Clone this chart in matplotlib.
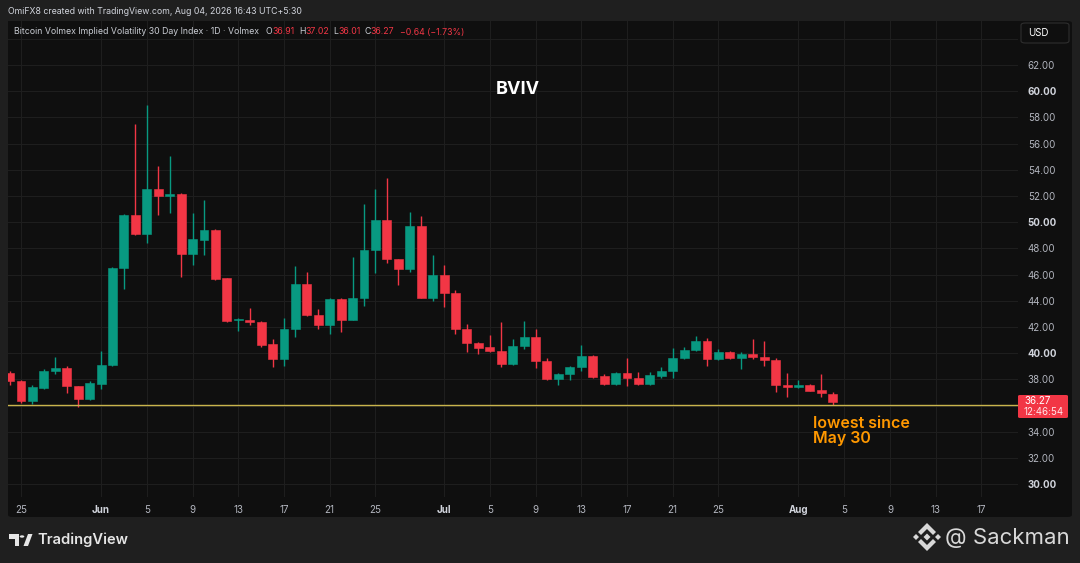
import matplotlib
matplotlib.use("Agg")
import matplotlib.pyplot as plt
import matplotlib.dates as mdates
from matplotlib.patches import FancyBboxPatch, Polygon, Circle
import numpy as np
import pandas as pd

plt.rcParams['font.family'] = ['Inter', 'DejaVu Sans']

# daily BVIV candles, May 24 - Aug 4 2026
dates = pd.date_range('2026-05-24', '2026-08-04', freq='D')
opens = [38.51, 37.90, 36.37, 37.37, 38.64, 38.89, 37.49, 36.48, 37.65, 39.07,
         46.48, 50.55, 49.10, 52.51, 52.00, 52.15, 47.55, 48.66, 49.40, 45.71,
         42.52, 42.56, 42.41, 40.68, 39.53, 41.85, 45.26, 42.89, 42.18, 44.14,
         42.56, 44.24, 47.88, 50.17, 47.17, 46.40, 49.74, 44.24, 45.95, 44.62,
         41.85, 40.76, 40.45, 40.20, 39.15, 40.58, 41.21, 39.41, 38.01, 38.41,
         38.97, 39.79, 38.29, 37.63, 38.52, 38.11, 37.65, 38.29, 38.62, 39.61,
         40.25, 40.93, 39.53, 40.11, 39.60, 39.96, 39.70, 39.45, 37.54, 37.44,
         37.54, 37.16, 36.91]
highs = [38.64, 37.95, 37.60, 38.77, 39.73, 39.02, 37.52, 37.88, 40.17, 46.55,
         50.60, 57.49, 58.94, 54.29, 55.08, 52.20, 50.73, 51.69, 49.45, 45.75,
         42.66, 43.43, 42.45, 41.06, 42.66, 46.66, 46.17, 43.38, 44.20, 44.20,
         47.32, 51.39, 52.54, 53.40, 47.20, 50.81, 50.48, 47.50, 46.71, 44.83,
         42.25, 40.83, 41.39, 42.36, 41.06, 42.46, 41.87, 39.60, 38.45, 39.00,
         40.63, 39.85, 38.41, 38.55, 39.66, 38.59, 38.54, 38.97, 40.37, 40.50,
         41.32, 41.18, 40.29, 40.15, 40.09, 41.08, 40.95, 39.60, 38.46, 37.95,
         37.62, 38.38, 37.02]
lows = [37.60, 36.17, 36.12, 37.24, 38.41, 36.93, 35.92, 36.42, 37.24, 39.00,
        44.90, 49.00, 48.39, 50.55, 50.73, 45.84, 46.73, 47.50, 45.60, 42.35,
        41.72, 42.15, 40.45, 38.97, 39.05, 41.26, 42.85, 41.85, 41.44, 41.59,
        42.50, 43.60, 46.10, 46.86, 45.21, 46.20, 44.20, 44.01, 43.55, 41.44,
        40.10, 39.92, 40.07, 38.92, 39.10, 40.32, 38.85, 37.95, 37.57, 37.96,
        38.67, 38.13, 37.60, 37.55, 37.52, 37.60, 37.60, 38.13, 38.13, 39.55,
        40.20, 39.04, 39.50, 39.55, 38.79, 39.53, 39.04, 37.06, 36.68, 37.31,
        37.08, 36.63, 36.01]
closes = [37.90, 36.37, 37.39, 38.64, 38.89, 37.49, 36.48, 37.70, 39.10, 46.48,
          50.55, 49.07, 52.51, 52.00, 52.10, 47.55, 48.69, 49.40, 45.69, 42.46,
          42.60, 42.38, 40.63, 39.53, 41.85, 45.28, 42.89, 42.18, 44.14, 42.56,
          44.24, 47.88, 50.17, 47.17, 46.40, 49.74, 44.24, 45.95, 44.62, 41.85,
          40.76, 40.42, 40.20, 39.15, 40.58, 41.21, 39.41, 38.01, 38.41, 38.97,
          39.79, 38.21, 37.63, 38.52, 38.08, 37.65, 38.31, 38.62, 39.61, 40.25,
          40.96, 39.53, 40.11, 39.60, 39.96, 39.68, 39.45, 37.54, 37.39, 37.54,
          37.14, 36.93, 36.27]
low_line = 36.05

price_ticks = [30, 32, 34, 36, 38, 40, 42, 44, 46, 48, 50, 52, 54, 56, 58, 60, 62, 64]
date_ticks = ['2026-05-25', '2026-06-01', '2026-06-05', '2026-06-09', '2026-06-13',
              '2026-06-17', '2026-06-21', '2026-06-25', '2026-07-01', '2026-07-05',
              '2026-07-09', '2026-07-13', '2026-07-17', '2026-07-21', '2026-07-25',
              '2026-08-01', '2026-08-05', '2026-08-09', '2026-08-13', '2026-08-17']
date_labels = ['25', 'Jun', '5', '9', '13', '17', '21', '25', 'Jul', '5',
               '9', '13', '17', '21', '25', 'Aug', '5', '9', '13', '17']

UP = '#089981'
DOWN = '#f23645'
W, H = 1080, 563


def fx(x):
    return x / W


def fy(y):
    return 1 - y / H


fig = plt.figure(figsize=(10.8, 5.63), dpi=100, facecolor='#1f1f1f')

# chart panel (behind the axes)
fig.patches.append(FancyBboxPatch((fx(8), fy(517)), fx(1072) - fx(8), fy(21) - fy(517),
                                  boxstyle='round,pad=0,rounding_size=0.004',
                                  transform=fig.transFigure, fc='#0f0f0f', ec='none', zorder=-5))

ax = fig.add_axes([fx(8), fy(497), fx(1018) - fx(8), fy(21) - fy(497)])
ax.set_zorder(0)
ax.set_facecolor('#0f0f0f')
for s in ax.spines.values():
    s.set_visible(False)

x = mdates.date2num(dates)
o = np.array(opens)
c = np.array(closes)
up = c >= o
cols = np.where(up, UP, DOWN)
bottoms = np.minimum(o, c)
heights = np.maximum(np.abs(c - o), 0.12)

ax.vlines(x, lows, highs, colors=cols, linewidth=1, zorder=3)
ax.bar(x, heights, bottom=bottoms, width=0.78, color=cols, edgecolor=cols, linewidth=0.4, zorder=4)

ax.axhline(low_line, color='#c9b44c', linewidth=1, zorder=5)

ax.set_ylim(29.02, 65.36)
ax.set_xlim(mdates.date2num(pd.Timestamp('2026-05-25')) - 1.14,
            mdates.date2num(pd.Timestamp('2026-05-25')) + 87.2)

ax.yaxis.tick_right()
ax.set_yticks(price_ticks)
ylabels = []
for v in price_ticks:
    ylabels.append('' if v in (36, 64) else f'{v:.2f}')
ax.set_yticklabels(ylabels)
ax.tick_params(axis='y', length=0, pad=7, labelsize=7, labelcolor='#b2b5be')
for t, v in zip(ax.get_yticklabels(), price_ticks):
    if v % 10 == 0:
        t.set_fontweight('bold')
        t.set_color('#d1d4dc')

ax.set_xticks(mdates.date2num(pd.to_datetime(date_ticks)))
ax.set_xticklabels(date_labels)
ax.tick_params(axis='x', length=0, pad=6, labelsize=7, labelcolor='#b2b5be')
for t, lab in zip(ax.get_xticklabels(), date_labels):
    if not lab.isdigit():
        t.set_fontweight('bold')
        t.set_color('#d1d4dc')

ax.grid(True, color='#1e1e1e', linewidth=0.8, zorder=0)
ax.set_axisbelow(True)

# header line with OHLC values
gray = '#c8cbd2'
pieces = [('Bitcoin Volmex Implied Volatility 30 Day Index · 1D · Volmex', gray, 0),
          ('O', gray, 5), ('36.91', DOWN, 0), ('H', gray, 3), ('37.02', DOWN, 0),
          ('L', gray, 3), ('36.01', DOWN, 0), ('C', gray, 3), ('36.27', DOWN, 0),
          ('−0.64 (−1.73%)', DOWN, 4)]
prev = ax.text((14 - 8) / 1010, (497 - 32) / 476, pieces[0][0], color=pieces[0][1],
               fontsize=6.3, transform=ax.transAxes, va='center', ha='left')
for s, col, gap in pieces[1:]:
    prev = ax.annotate(s, xy=(1, 0), xycoords=prev, xytext=(gap, 0), textcoords='offset points',
                       color=col, fontsize=6.3, va='bottom', ha='left')

ax.text((518 - 8) / 1010, (497 - 90) / 476, 'BVIV', color='white', fontsize=13,
        fontweight='bold', transform=ax.transAxes, ha='center', va='center')
ax.text((813 - 8) / 1010, (497 - 431) / 476, 'lowest since\nMay 30', color='#ff9800',
        fontsize=11.5, fontweight='semibold', transform=ax.transAxes, ha='left', va='center',
        linespacing=1.0)

# top bar text
fig.text(fx(8), fy(12), 'OmiFX8 created with TradingView.com, Aug 04, 2026 16:43 UTC+5:30',
         color='#d1d4dc', fontsize=6.3, ha='left', va='center')

# USD button
fig.patches.append(FancyBboxPatch((fx(1021), fy(43)), fx(1069) - fx(1021), fy(23) - fy(43),
                                  boxstyle='round,pad=0,rounding_size=0.004',
                                  transform=fig.transFigure, fc='#0f0f0f', ec='#2e2e2e', lw=0.8))
fig.text(fx(1028), fy(33), 'USD', color='white', fontsize=7, ha='left', va='center')

# last price label
fig.patches.append(FancyBboxPatch((fx(1018), fy(418)), fx(1068) - fx(1018), fy(395) - fy(418),
                                  boxstyle='round,pad=0,rounding_size=0.002',
                                  transform=fig.transFigure, fc=DOWN, ec='none'))
fig.text(fx(1024), fy(401.5), '36.27', color='white', fontsize=7, ha='left', va='center')
fig.text(fx(1024), fy(412), '12:46:54', color='#ffe5e8', fontsize=7, ha='left', va='center')

# TradingView logo
tv = '#e6e6e6'
fig.patches.append(Polygon([(fx(9), fy(534)), (fx(19), fy(534)), (fx(19), fy(546)), (fx(14.5), fy(546)),
                            (fx(14.5), fy(538.5)), (fx(9), fy(538.5))], closed=True,
                           transform=fig.transFigure, fc=tv, ec='none'))
fig.patches.append(Circle((fx(22), fy(536.5)), 2.3 / W, transform=fig.transFigure, fc=tv, ec='none'))
fig.patches.append(Polygon([(fx(23.5), fy(546)), (fx(28), fy(534)), (fx(32.5), fy(534)), (fx(28), fy(546))],
                           closed=True, transform=fig.transFigure, fc=tv, ec='none'))
fig.text(fx(37), fy(540), 'TradingView', color=tv, fontsize=10.6, fontweight='semibold',
         ha='left', va='center')

# watermark with Binance-style mark
bn = '#d8d8d8'
cx, cy = 927, 537
fig.patches.append(Polygon([(fx(cx - 9), fy(cy - 5)), (fx(cx), fy(cy - 14)), (fx(cx + 9), fy(cy - 5)),
                            (fx(cx + 6), fy(cy - 2)), (fx(cx), fy(cy - 8)), (fx(cx - 6), fy(cy - 2))],
                           closed=True, transform=fig.transFigure, fc=bn, ec='none'))
fig.patches.append(Polygon([(fx(cx - 9), fy(cy + 5)), (fx(cx), fy(cy + 14)), (fx(cx + 9), fy(cy + 5)),
                            (fx(cx + 6), fy(cy + 2)), (fx(cx), fy(cy + 8)), (fx(cx - 6), fy(cy + 2))],
                           closed=True, transform=fig.transFigure, fc=bn, ec='none'))
for dx, r in [(-11, 3), (0, 3.5), (11, 3)]:
    fig.patches.append(Polygon([(fx(cx + dx - r), fy(cy)), (fx(cx + dx), fy(cy - r)),
                                (fx(cx + dx + r), fy(cy)), (fx(cx + dx), fy(cy + r))],
                               closed=True, transform=fig.transFigure, fc=bn, ec='none'))
fig.text(fx(945), fy(538), '@ Sackman', color=bn, fontsize=16, ha='left', va='center')

fig.savefig('out.png', dpi=100, facecolor=fig.get_facecolor())
